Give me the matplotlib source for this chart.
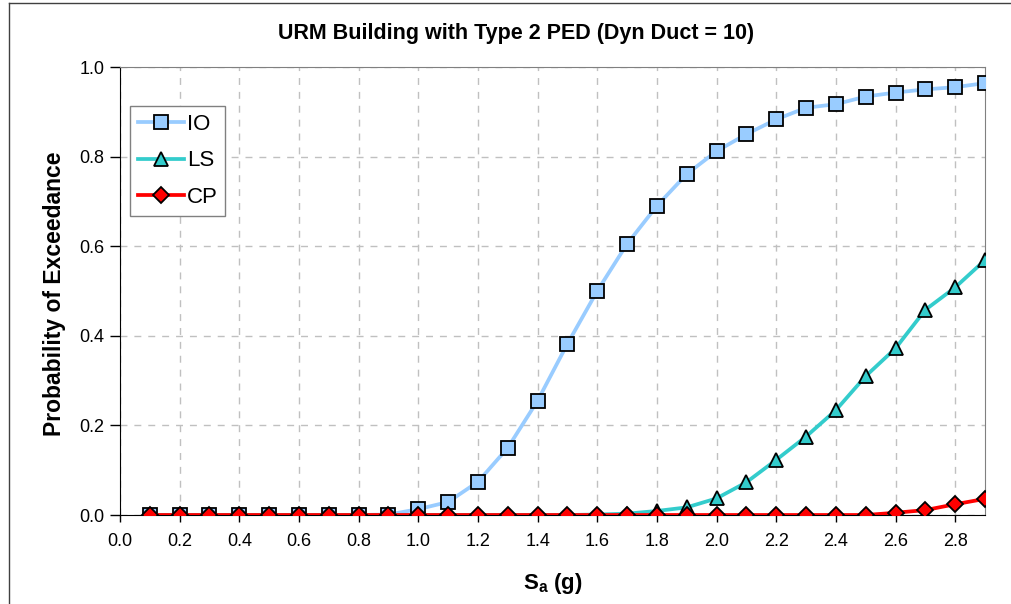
import matplotlib
matplotlib.use("Agg")
import matplotlib.pyplot as plt
from matplotlib.lines import Line2D

plt.rcParams["font.family"] = ["Liberation Sans", "DejaVu Sans"]
plt.rcParams["mathtext.fontset"] = "custom"
plt.rcParams["mathtext.rm"] = "Liberation Sans"
plt.rcParams["mathtext.bf"] = "Liberation Sans:bold"

# spectral acceleration values (g)
sa = [0.1, 0.2, 0.3, 0.4, 0.5, 0.6, 0.7, 0.8, 0.9, 1.0,
      1.1, 1.2, 1.3, 1.4, 1.5, 1.6, 1.7, 1.8, 1.9, 2.0,
      2.1, 2.2, 2.3, 2.4, 2.5, 2.6, 2.7, 2.8, 2.9]

# probability of exceedance per performance level
io = [0.0, 0.0, 0.0, 0.0, 0.0, 0.0, 0.0, 0.0, 0.001, 0.013,
      0.029, 0.074, 0.150, 0.255, 0.382, 0.500, 0.605, 0.690, 0.761, 0.812,
      0.850, 0.883, 0.909, 0.917, 0.934, 0.943, 0.950, 0.955, 0.964]
ls = [0.0, 0.0, 0.0, 0.0, 0.0, 0.0, 0.0, 0.0, 0.0, 0.0,
      0.0, 0.0, 0.0, 0.0, 0.0, 0.001, 0.003, 0.009, 0.017, 0.037,
      0.073, 0.123, 0.175, 0.234, 0.310, 0.372, 0.458, 0.508, 0.569]
cp = [0.0, 0.0, 0.0, 0.0, 0.0, 0.0, 0.0, 0.0, 0.0, 0.0,
      0.0, 0.0, 0.0, 0.0, 0.0, 0.0, 0.0, 0.0, 0.0, 0.0,
      0.0, 0.0, 0.0, 0.0, 0.0, 0.005, 0.011, 0.024, 0.036]

xticks = [0.0, 0.2, 0.4, 0.6, 0.8, 1.0, 1.2, 1.4, 1.6, 1.8, 2.0, 2.2, 2.4, 2.6, 2.8]
yticks = [0.0, 0.2, 0.4, 0.6, 0.8, 1.0]

W, H = 1012, 604
fig = plt.figure(figsize=(W / 100, H / 100), dpi=100)
ax = fig.add_axes([120 / W, 1 - 515 / H, 865 / W, 448 / H])

ax.plot(sa, io, color="#99CCFF", lw=2.7, marker="s", ms=9.5, mfc="#99CCFF",
        mec="black", mew=1.3, label="IO", zorder=3)
ax.plot(sa, ls, color="#33CCCC", lw=2.7, marker="^", ms=10, mfc="#33CCCC",
        mec="black", mew=1.3, label="LS", zorder=4)
ax.plot(sa, cp, color="#FF0000", lw=2.7, marker="D", ms=8, mfc="#FF0000",
        mec="black", mew=1.3, label="CP", zorder=5)

ax.set_xlim(0, 2.9)
ax.set_ylim(0, 1.0)
ax.set_xticks(xticks)
ax.set_xticklabels([f"{t:.1f}" for t in xticks])
ax.set_yticks(yticks)
ax.set_yticklabels([f"{t:.1f}" for t in yticks])
ax.tick_params(axis="both", labelsize=13, direction="out", color="black")
ax.tick_params(axis="y", length=7, width=1, pad=4)
ax.tick_params(axis="x", length=5, width=1, pad=8)

ax.grid(True, color="#C0C0C0", lw=1, linestyle=(0, (5, 5)))
ax.set_axisbelow(True)
for side in ("top", "right"):
    ax.spines[side].set_color("#808080")
for side in ("left", "bottom"):
    ax.spines[side].set_color("black")

leg = ax.legend(loc="upper left", bbox_to_anchor=(10 / 865, (515 - 106) / 448),
                borderaxespad=0, fontsize=16, frameon=True, fancybox=False,
                edgecolor="#808080", framealpha=1, handlelength=2.1,
                handletextpad=0.1, labelspacing=0.7, borderpad=0.35, numpoints=1)
leg.get_frame().set_linewidth(1)

fig.text(516 / W, 1 - 34 / H, "URM Building with Type 2 PED (Dyn Duct = 10)",
         ha="center", va="center", fontsize=15.5, fontweight="bold")
fig.text(55 / W, 1 - 294 / H, "Probability of Exceedance", rotation=90,
         ha="center", va="center", fontsize=16.5, fontweight="bold")
fig.text(553 / W, 1 - 583 / H, r"$\mathbf{S_a}$ (g)", ha="center",
         va="center", fontsize=16, fontweight="bold")

# chart area border (left and top edges visible)
fig.add_artist(Line2D([9 / W, 9 / W], [0, 1 - 3 / H], color="#404040", lw=1))
fig.add_artist(Line2D([9 / W, 1], [1 - 3 / H, 1 - 3 / H], color="#404040", lw=1))

fig.savefig("out.png", dpi=100)
